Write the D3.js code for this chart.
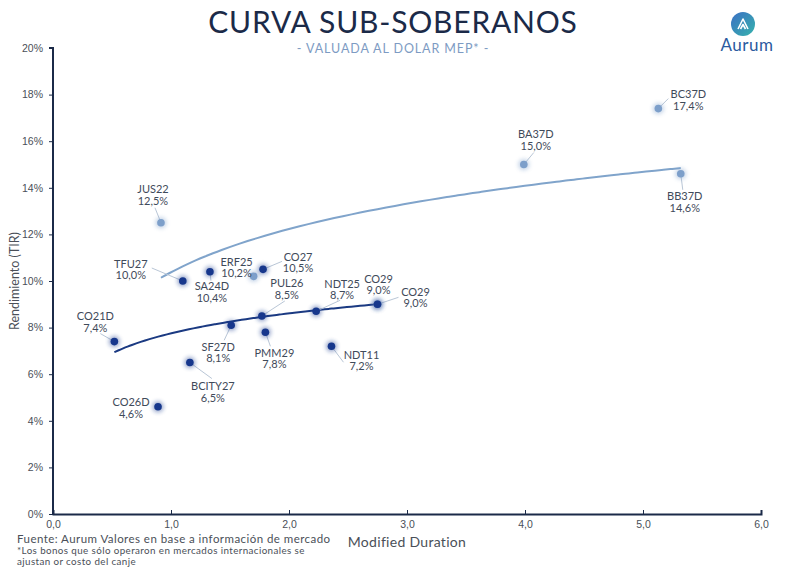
<!DOCTYPE html>
<html>
<head>
<meta charset="utf-8">
<script src="https://cdn.jsdelivr.net/npm/d3@7"></script>
<style>
  body { margin: 0; background: #fff; }
  svg { font-family: "Lato", "Noto Sans", sans-serif; }
</style>
</head>
<body>
<div id="chart"></div>
<script>
// bonos locales (azul oscuro)
const localNames = ["TFU27", "SA24D", "CO27", "PUL26", "SF27D", "PMM29", "NDT25", "CO29", "NDT11", "CO21D", "BCITY27", "CO26D"];
const localDuration = [1.10, 1.33, 1.78, 1.77, 1.51, 1.80, 2.23, 2.75, 2.36, 0.52, 1.16, 0.89];
const localYield = [10.0, 10.4, 10.5, 8.5, 8.1, 7.8, 8.7, 9.0, 7.2, 7.4, 6.5, 4.6];

// bonos internacionales (celeste)
const intlNames = ["JUS22", "ERF25", "CO29", "BA37D", "BC37D", "BB37D"];
const intlDuration = [0.915, 1.70, 2.75, 3.99, 5.13, 5.32];
const intlYield = [12.5, 10.2, 9.0, 15.0, 17.4, 14.6];

const xTicks = [0, 1, 2, 3, 4, 5, 6];
const yTicks = [0, 2, 4, 6, 8, 10, 12, 14, 16, 18, 20];

// label placement: [label dx, label dy, leader dx, leader dy] relative to dot (px)
const labelLayout = {
  local: {
    TFU27: [-52, -12, -31, -13], SA24D: [2, 20, 1, 9], CO27: [35, -7, 19, -8],
    PUL26: [25, -27, 23, -15], SF27D: [-13, 27, -7, 15], PMM29: [9, 26, 5, 14],
    NDT25: [26, -22, 24, -11], CO29: [1, -20, null, null], NDT11: [30, 14, 12, 16],
    CO21D: [-19, -20, -14, -8], BCITY27: [23, 29, 22, 16], CO26D: [-27, 1, null, null]
  },
  intl: {
    JUS22: [-8, -28, -6, -15], ERF25: [-17, -9, null, null], CO29: [38, -7, 21, -7],
    BA37D: [12, -25, 10, -12], BC37D: [30, -9, 10, -10], BB37D: [4, 28, 2, 16]
  }
};

const W = 789, H = 576;
const margin = { top: 48, right: 28, bottom: 62, left: 53 };
const width = W - margin.left - margin.right;
const height = H - margin.top - margin.bottom;

const svg = d3.select("#chart").append("svg").attr("width", W).attr("height", H);

const defs = svg.append("defs");
defs.append("filter").attr("id", "glow").attr("x", "-100%").attr("y", "-100%").attr("width", "300%").attr("height", "300%")
  .append("feGaussianBlur").attr("stdDeviation", 2);
const grad = defs.append("linearGradient").attr("id", "logoGrad")
  .attr("x1", "0%").attr("y1", "0%").attr("x2", "100%").attr("y2", "100%");
grad.append("stop").attr("offset", "0%").attr("stop-color", "#3b6fc4");
grad.append("stop").attr("offset", "100%").attr("stop-color", "#36b3ad");

// titulo
svg.append("text").attr("x", 393).attr("y", 33).attr("text-anchor", "middle")
  .attr("font-size", 30).attr("fill", "#1b2a48").attr("letter-spacing", 0.8)
  .text("CURVA SUB-SOBERANOS");
svg.append("text").attr("x", 393).attr("y", 53).attr("text-anchor", "middle")
  .attr("font-size", 12.5).attr("fill", "#7d9bc3").attr("letter-spacing", 0.9)
  .text("- VALUADA AL DOLAR MEP* -");

// logo
const logo = svg.append("g").attr("transform", "translate(743,24)");
logo.append("circle").attr("r", 12).attr("fill", "url(#logoGrad)");
logo.append("path").attr("d", "M-5,5 L0,-5 L5,5 M-2.5,5 L0,0.5 L2.5,5")
  .attr("fill", "none").attr("stroke", "#fff").attr("stroke-width", 1.6).attr("stroke-linejoin", "round");
svg.append("text").attr("x", 747).attr("y", 51).attr("text-anchor", "middle")
  .attr("font-size", 17).attr("fill", "#2b5aa0").attr("letter-spacing", 0.5).text("Aurum");

const g = svg.append("g").attr("transform", `translate(${margin.left},${margin.top})`);

const x = d3.scaleLinear().domain([0, 6]).range([0, width]);
const y = d3.scaleLinear().domain([0, 20]).range([height, 0]);

// ejes
const yAxis = g.append("g").call(d3.axisLeft(y).tickValues(yTicks).tickSize(4).tickPadding(6)
  .tickFormat(d => d + "%"));
const xAxis = g.append("g").attr("transform", `translate(0,${height})`)
  .call(d3.axisBottom(x).tickValues(xTicks).tickSize(-4).tickPadding(7)
    .tickFormat(d => d3.format(".1f")(d).replace(".", ",")));
[xAxis, yAxis].forEach(ax => {
  ax.select(".domain").attr("stroke", "#1b2a48").attr("stroke-width", 2);
  ax.selectAll(".tick line").attr("stroke", "#1b2a48");
  ax.selectAll(".tick text").attr("fill", "#4a4f58").attr("font-size", 10.5);
});
yAxis.select(".domain").attr("d", `M-4,0H0V${height}`);

svg.append("text").attr("transform", `translate(19,${margin.top + height / 2}) rotate(-90)`)
  .attr("text-anchor", "middle").attr("font-size", 12.5).attr("fill", "#4a4f58")
  .text("Rendimiento (TIR)");
svg.append("text").attr("x", 407).attr("y", 547).attr("text-anchor", "middle")
  .attr("font-size", 14).attr("fill", "#4a4f58").attr("letter-spacing", 0.3).text("Modified Duration");

// notas
svg.append("text").attr("x", 17).attr("y", 543).attr("font-size", 11.5).attr("fill", "#4a4f58")
  .attr("letter-spacing", 0.45).text("Fuente: Aurum Valores en base a información de mercado");
svg.append("text").attr("x", 17).attr("y", 554).attr("font-size", 9.8).attr("fill", "#4a4f58")
  .attr("letter-spacing", 0.4).text("*Los bonos que sólo operaron en mercados internacionales se");
svg.append("text").attr("x", 17).attr("y", 565).attr("font-size", 9.8).attr("fill", "#4a4f58")
  .attr("letter-spacing", 0.4).text("ajustan or costo del canje");

// tendencia logaritmica por minimos cuadrados
function logFit(xs, ys) {
  const lx = xs.map(Math.log);
  const mx = d3.mean(lx), my = d3.mean(ys);
  const b = d3.sum(lx, (v, i) => (v - mx) * (ys[i] - my)) / d3.sum(lx, v => (v - mx) ** 2);
  const a = my - b * mx;
  const [x0, x1] = d3.extent(xs);
  return d3.range(0, 61).map(i => {
    const xv = x0 + (x1 - x0) * i / 60;
    return [xv, a + b * Math.log(xv)];
  });
}

const series = [
  { key: "intl", names: intlNames, xs: intlDuration, ys: intlYield, color: "#7d9fca", line: "#80a4cb" },
  { key: "local", names: localNames, xs: localDuration, ys: localYield, color: "#17378c", line: "#1b3a82" }
];

const line = d3.line().x(d => x(d[0])).y(d => y(d[1])).curve(d3.curveBasis);
series.forEach(s => {
  g.append("path").datum(logFit(s.xs, s.ys))
    .attr("fill", "none").attr("stroke", s.line).attr("stroke-width", 2).attr("d", line);
});

series.forEach(s => {
  const data = s.names.map((n, i) => ({ name: n, dx: s.xs[i], yv: s.ys[i] }));
  const lay = labelLayout[s.key];

  // leader lines
  g.selectAll(null).data(data.filter(d => lay[d.name][2] !== null)).enter().append("line")
    .attr("x1", d => x(d.dx)).attr("y1", d => y(d.yv))
    .attr("x2", d => x(d.dx) + lay[d.name][2]).attr("y2", d => y(d.yv) + lay[d.name][3])
    .attr("stroke", "#b9c6d6").attr("stroke-width", 1);

  g.selectAll(null).data(data).enter().append("circle")
    .attr("cx", d => x(d.dx)).attr("cy", d => y(d.yv)).attr("r", 5.5)
    .attr("fill", s.color).attr("opacity", 0.45).attr("filter", "url(#glow)");
  g.selectAll(null).data(data).enter().append("circle")
    .attr("cx", d => x(d.dx)).attr("cy", d => y(d.yv)).attr("r", 3.8)
    .attr("fill", s.color);

  const lbl = g.selectAll(null).data(data).enter().append("text")
    .attr("text-anchor", "middle").attr("font-size", 11).attr("fill", "#3f4a5a")
    .attr("transform", d => `translate(${x(d.dx) + lay[d.name][0]},${y(d.yv) + lay[d.name][1]})`);
  lbl.append("tspan").attr("x", 0).attr("y", -1.5).text(d => d.name);
  lbl.append("tspan").attr("x", 0).attr("y", 10).text(d => d3.format(".1f")(d.yv).replace(".", ",") + "%");
});
</script>
</body>
</html>
